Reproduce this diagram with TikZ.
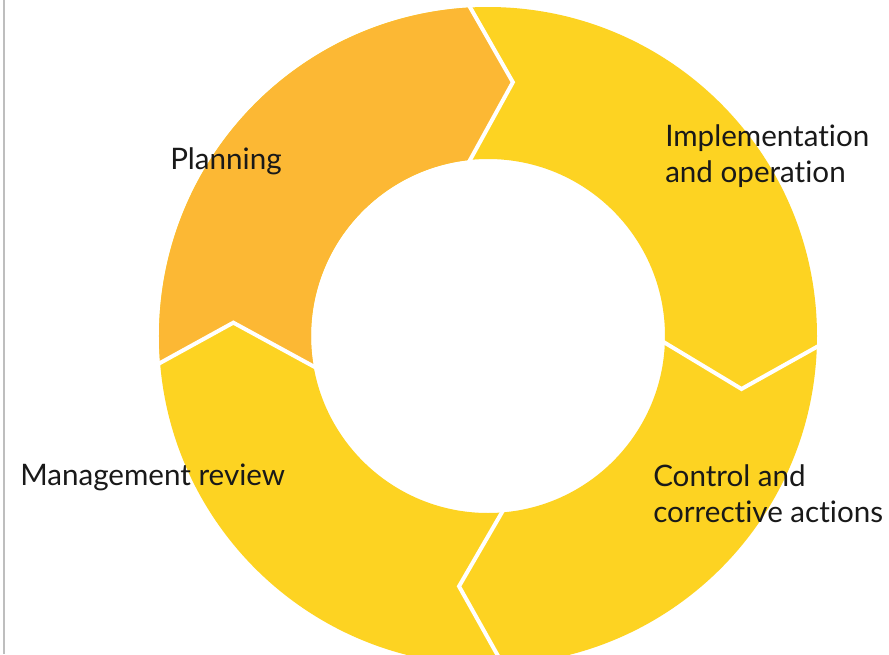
\documentclass[tikz,border=0pt]{standalone}
\usepackage{fontspec}
\setmainfont{Lato}[Ligatures={NoCommon}]
\definecolor{ringyellow}{RGB}{253,211,34}
\definecolor{ringorange}{RGB}{252,184,52}
\definecolor{framegray}{RGB}{190,190,190}
\tikzset{
  sepline/.style={white, line width=3pt, line join=miter, shorten <=-6pt, shorten >=-6pt},
  lbl/.style={anchor=base west, inner sep=0pt, align=left, text=black!90,
    font=\fontsize{22.2}{26.3}\selectfont}
}
\begin{document}
\begin{tikzpicture}[x=0.75pt,y=0.75pt]
\useasboundingbox (-488,-318) rectangle (401,336);
\clip (-488,-318) rectangle (401,336);
\fill[white] (-488,-318) rectangle (401,336);
% ring
\fill[ringyellow, even odd rule] (0,0) circle (329) (0,0) circle (177);
% planning segment
\fill[ringorange] (93.1:329) arc[start angle=93.1, end angle=184.7, radius=329]
  -- (177:255) -- (189.9:177) arc[start angle=189.9, end angle=95.8, radius=177]
  -- (84.4:255) -- cycle;
% separators
\draw[sepline] (93.1:329) -- (84.4:255) -- (95.8:177);
\draw[sepline] (-1.9:329) -- (-11.8:259) -- (-2.2:177);
\draw[sepline] (-87.4:329) -- (-96.6:252) -- (-85.5:177);
\draw[sepline] (184.7:329) -- (177:255) -- (189.9:177);
% frame line
\draw[framegray, line width=0.9pt] (-484,336) -- (-484,-318);
% labels
\node[lbl] (plan) at (-318,167) {Planning};
\node[lbl] (impl) at (177,154) {Implementation\\and operation};
\node[lbl] (mgmt) at (-468,-149) {Management review};
\node[lbl] (ctrl) at (165,-186) {Control and\\corrective actions};
\end{tikzpicture}
\end{document}
